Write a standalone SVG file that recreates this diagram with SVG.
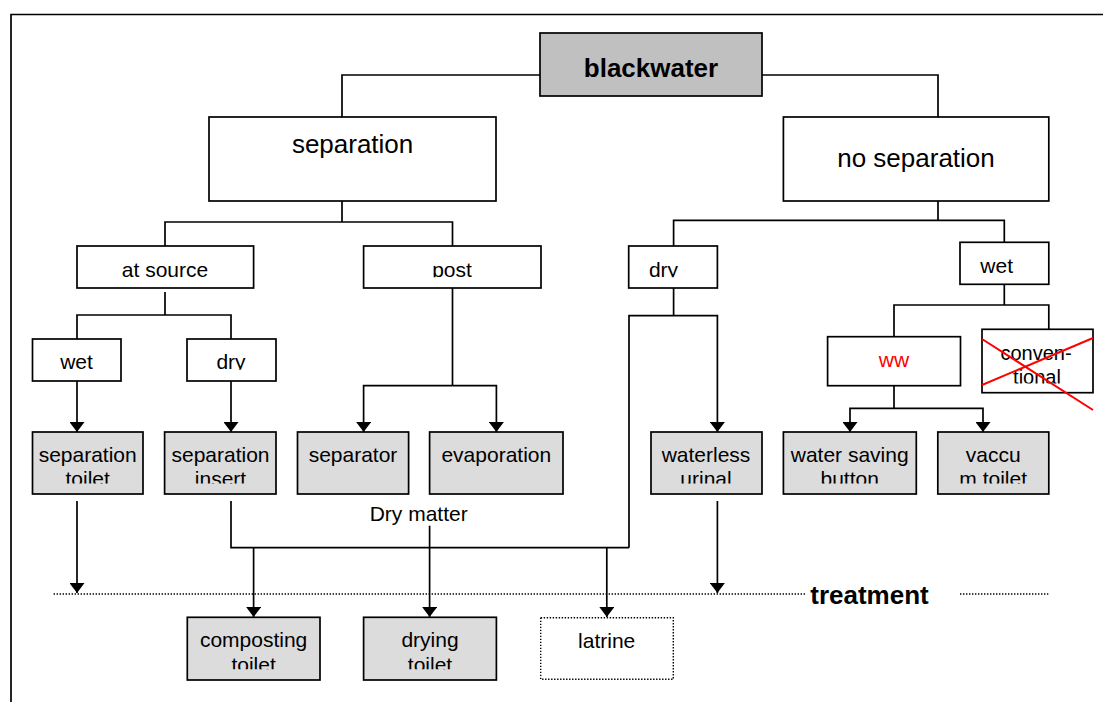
<svg xmlns="http://www.w3.org/2000/svg" width="1103" height="702" viewBox="0 0 1103 702">
<style>
text{font-family:"Liberation Sans",Arial,sans-serif;fill:#000;text-anchor:middle}
.s{font-size:21px}
.l{font-size:26px}
.b{font-size:26px;font-weight:bold}
.box{fill:#fff;stroke:#000;stroke-width:1.7}
.gray{fill:#dcdcdc;stroke:#000;stroke-width:1.7}
.dark{fill:#c0c0c0;stroke:#000;stroke-width:1.7}
.dot{fill:#fff;stroke:#000;stroke-width:1.4;stroke-dasharray:1.4 1.6}
.c{fill:none;stroke:#000;stroke-width:1.7}
.a{marker-end:url(#arr)}
.dl{fill:none;stroke:#000;stroke-width:1.4;stroke-dasharray:1.4 1.6}
.x{stroke:#ff0000;stroke-width:2}
</style>
<defs>
<marker id="arr" viewBox="0 0 10 15" refX="10" refY="7.5" markerWidth="10" markerHeight="15" markerUnits="userSpaceOnUse" orient="auto"><path d="M0,0 L10,7.5 L0,15 z" fill="#000"/></marker>
<clipPath id="row1" clipPathUnits="userSpaceOnUse"><rect x="0" y="420" width="1103" height="63.5"/></clipPath>
<clipPath id="row2" clipPathUnits="userSpaceOnUse"><rect x="0" y="600" width="1103" height="69.3"/></clipPath>
<clipPath id="c277" clipPathUnits="userSpaceOnUse"><rect x="0" y="240" width="1103" height="37.3"/></clipPath>
<clipPath id="c369" clipPathUnits="userSpaceOnUse"><rect x="0" y="330" width="300" height="39.8"/></clipPath>
<clipPath id="conv" clipPathUnits="userSpaceOnUse"><rect x="982" y="329" width="111" height="54.5"/></clipPath>
</defs>
<path d="M11,702 V14.5 H1103" fill="none" stroke="#000" stroke-width="1.7"/>

<g id="connectors">
<path class="c" d="M540,75 H342 V117"/>
<path class="c" d="M762,75 H938 V117"/>
<path class="c" d="M342,201 V222 M165,246 V222 H452.5 V246"/>
<path class="c" d="M938,201 V220.3 M673.6,246 V220.3 H1004.3 V242.3"/>
<path class="c" d="M165,292 V315 M77,339 V315 H231 V339"/>
<path class="c a" d="M77,381 V432"/>
<path class="c a" d="M231,381 V432"/>
<path class="c" d="M452.5,288 V385.7"/>
<path class="c a" d="M452.5,385.7 H363.6 V432"/>
<path class="c a" d="M452.5,385.7 H496.4 V432"/>
<path class="c" d="M673.6,288 V315.7"/>
<path class="c a" d="M629,547.7 V315.7 H717.4 V432"/>
<path class="c" d="M231,501 V547.7 H629"/>
<path class="c a" d="M253.6,547.7 V617"/>
<path class="c a" d="M606.8,547.7 V617"/>
<path class="c a" d="M429.6,525.7 V617"/>
<path class="c a" d="M77,501 V593"/>
<path class="c a" d="M717.4,501 V593"/>
<path class="c" d="M1004.3,284.3 V305 M894,336.7 V305 H1048.8 V336.7"/>
<path class="c" d="M894,385.7 V408.3"/>
<path class="c a" d="M894,408.3 H850 V432"/>
<path class="c a" d="M894,408.3 H983 V432"/>
<path class="dl" d="M53.6,594 H805 M960,594 H1048.3"/>
</g>

<g id="blackwater"><rect class="dark" x="540" y="33" width="222" height="63"/><text class="b" x="651" y="77.3">blackwater</text></g>
<g id="separation"><rect class="box" x="209" y="117" width="287" height="84"/><text class="l" x="352.6" y="153">separation</text></g>
<g id="no-separation"><rect class="box" x="783.4" y="117" width="265.4" height="84"/><text class="l" x="916" y="167">no separation</text></g>

<g id="at-source"><rect class="box" x="77" y="246" width="176.6" height="42"/><text class="s" x="165" y="276.7" clip-path="url(#c277)">at source</text></g>
<g id="post"><rect class="box" x="363.6" y="246" width="177.4" height="42"/><text class="s" x="452" y="276.7" clip-path="url(#c277)">post</text></g>
<g id="dry-ns"><rect class="box" x="628.7" y="246" width="88.7" height="42"/><text class="s" x="663.5" y="276.7" clip-path="url(#c277)">dry</text></g>
<g id="wet-ns"><rect class="box" x="960" y="242.3" width="88.8" height="42"/><text class="s" x="996.7" y="273">wet</text></g>

<g id="wet-s"><rect class="box" x="32.5" y="339" width="88.5" height="42"/><text class="s" x="76.5" y="369.3" clip-path="url(#c369)">wet</text></g>
<g id="dry-s"><rect class="box" x="187" y="339" width="89" height="42"/><text class="s" x="231" y="369.3" clip-path="url(#c369)">dry</text></g>

<g id="ww"><rect class="box" x="827.6" y="336.7" width="132.9" height="49"/><text class="s" x="894" y="367" style="fill:#ff0000">ww</text></g>
<g id="conventional"><rect class="box" x="982" y="329.3" width="111" height="63.4"/><g clip-path="url(#conv)"><text class="s" x="1036" y="360" style="font-size:20px">conven-</text><text class="s" x="1037" y="384" style="font-size:20px">tional</text></g><path class="x" d="M982,339 L1093,410 M982,385 L1093,338"/></g>

<g id="separation-toilet"><rect class="gray" x="32.5" y="432" width="110.5" height="62"/><g clip-path="url(#row1)"><text class="s" x="87.7" y="462">separation</text><text class="s" x="87.7" y="486">toilet</text></g></g>
<g id="separation-insert"><rect class="gray" x="164.6" y="432" width="111.4" height="62"/><g clip-path="url(#row1)"><text class="s" x="220.5" y="462">separation</text><text class="s" x="220.5" y="486">insert</text></g></g>
<g id="separator"><rect class="gray" x="297.5" y="432" width="111.1" height="62"/><text class="s" x="353" y="462">separator</text></g>
<g id="evaporation"><rect class="gray" x="429.6" y="432" width="133.4" height="62"/><text class="s" x="496.3" y="462">evaporation</text></g>
<g id="waterless-urinal"><rect class="gray" x="651" y="432" width="111" height="62"/><g clip-path="url(#row1)"><text class="s" x="706" y="462">waterless</text><text class="s" x="706" y="486">urinal</text></g></g>
<g id="water-saving-button"><rect class="gray" x="783.4" y="432" width="132.9" height="62"/><g clip-path="url(#row1)"><text class="s" x="849.7" y="462">water saving</text><text class="s" x="849.7" y="486">button</text></g></g>
<g id="vaccum-toilet"><rect class="gray" x="937.8" y="432" width="111" height="62"/><g clip-path="url(#row1)"><text class="s" x="993.2" y="462">vaccu</text><text class="s" x="993.2" y="486">m toilet</text></g></g>

<g id="dry-matter"><text class="s" x="418.7" y="521">Dry matter</text></g>
<g id="treatment"><text class="b" x="869.5" y="604.3">treatment</text></g>

<g id="composting-toilet"><rect class="gray" x="187.3" y="617.3" width="132.7" height="62.7"/><g clip-path="url(#row2)"><text class="s" x="253.6" y="647">composting</text><text class="s" x="253.6" y="672">toilet</text></g></g>
<g id="drying-toilet"><rect class="gray" x="363.6" y="617.3" width="132.8" height="62.7"/><g clip-path="url(#row2)"><text class="s" x="430" y="647">drying</text><text class="s" x="430" y="672">toilet</text></g></g>
<g id="latrine"><rect class="dot" x="540.7" y="617.7" width="132.6" height="61.6"/><text class="s" x="606.7" y="648.3">latrine</text></g>
</svg>
